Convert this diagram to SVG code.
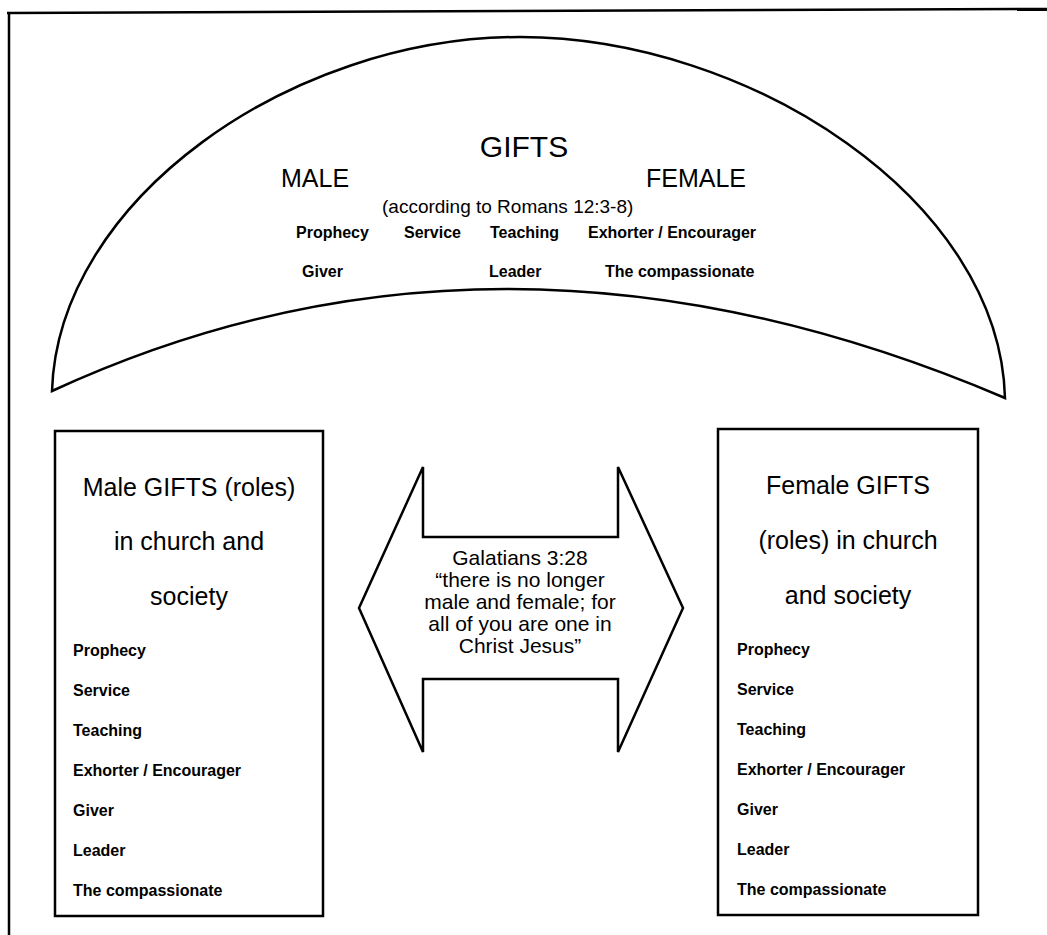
<svg xmlns="http://www.w3.org/2000/svg" width="1047" height="935" viewBox="0 0 1047 935">
<style>
.ln{fill:none;stroke:#000;stroke-width:2.5}
.shape{fill:#fff;stroke:#000;stroke-width:2.5;stroke-linejoin:miter}
.t{font-family:"Liberation Sans",Arial,sans-serif;fill:#000}
.big{font-size:30px}
.hd{font-size:25px}
.sub{font-size:19px}
.it{font-size:16px;font-weight:bold}
.ar{font-size:21px;text-anchor:middle}
.bh{font-size:25px;text-anchor:middle}
</style>
<rect x="0" y="0" width="1047" height="935" fill="#fff"/>
<g id="frame">
<path class="ln" d="M7 13 L1047 9"/>
<path class="ln" d="M9 12 L9 935"/>
</g>
<g id="gifts-arc">
<path class="shape" d="M52 391 C58 200 290 37 520 37 C750 37 1000 200 1005 398 Q501.5 183.5 52 391 Z"/>
<text class="t big" x="524" y="157" text-anchor="middle">GIFTS</text>
<text class="t hd" x="281" y="187">MALE</text>
<text class="t hd" x="646" y="187">FEMALE</text>
<text class="t sub" x="382" y="213">(according to  Romans 12:3-8)</text>
<text class="t it" x="296" y="238">Prophecy</text>
<text class="t it" x="404" y="238">Service</text>
<text class="t it" x="490" y="238">Teaching</text>
<text class="t it" x="588" y="238">Exhorter / Encourager</text>
<text class="t it" x="302" y="277">Giver</text>
<text class="t it" x="489" y="277">Leader</text>
<text class="t it" x="605" y="277">The compassionate</text>
</g>
<g id="male-box">
<rect class="shape" x="55" y="431" width="268" height="485" stroke-width="2"/>
<text class="t bh" x="189" y="496">Male GIFTS (roles)</text>
<text class="t bh" x="189" y="550">in church and</text>
<text class="t bh" x="189" y="605">society</text>
<text class="t it" x="73" y="656">Prophecy</text>
<text class="t it" x="73" y="696">Service</text>
<text class="t it" x="73" y="736">Teaching</text>
<text class="t it" x="73" y="776">Exhorter / Encourager</text>
<text class="t it" x="73" y="816">Giver</text>
<text class="t it" x="73" y="856">Leader</text>
<text class="t it" x="73" y="896">The compassionate</text>
</g>
<g id="female-box">
<rect class="shape" x="718" y="429" width="260" height="486" stroke-width="2"/>
<text class="t bh" x="848" y="494">Female GIFTS</text>
<text class="t bh" x="848" y="549">(roles) in church</text>
<text class="t bh" x="848" y="604">and society</text>
<text class="t it" x="737" y="655">Prophecy</text>
<text class="t it" x="737" y="695">Service</text>
<text class="t it" x="737" y="735">Teaching</text>
<text class="t it" x="737" y="775">Exhorter / Encourager</text>
<text class="t it" x="737" y="815">Giver</text>
<text class="t it" x="737" y="855">Leader</text>
<text class="t it" x="737" y="895">The compassionate</text>
</g>
<g id="connectors">
<g id="galatians-arrow">
<path class="shape" d="M359 608 L423 467 L423 537 L618 537 L618 467 L683 608 L618 752 L618 679 L423 679 L423 752 Z"/>
<text class="t ar" x="520" y="565">Galatians 3:28</text>
<text class="t ar" x="520" y="587">“there is no longer</text>
<text class="t ar" x="520" y="609">male and female; for</text>
<text class="t ar" x="520" y="631">all of you are one in</text>
<text class="t ar" x="520" y="653">Christ Jesus”</text>
</g>
</g>
</svg>
